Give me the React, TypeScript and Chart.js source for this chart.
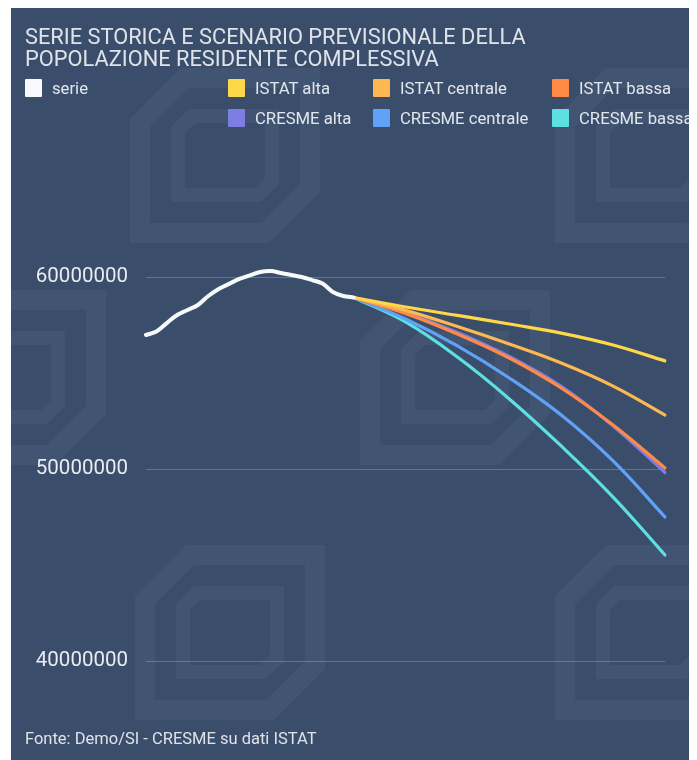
import React, { useEffect, useRef } from "react";
import { Chart, registerables } from "chart.js";
Chart.register(...registerables);

const TITLE_LINES = ["SERIE STORICA E SCENARIO PREVISIONALE DELLA", "POPOLAZIONE RESIDENTE COMPLESSIVA"];
const SOURCE = "Fonte: Demo/SI - CRESME su dati ISTAT";

const years = [
  "2002", "2003", "2004", "2005", "2006", "2007", "2008", "2009", "2010", "2011",
  "2012", "2013", "2014", "2015", "2016", "2017", "2018", "2019", "2020", "2021",
  "2022", "2023", "2024", "2025", "2026", "2027", "2028", "2029", "2030", "2031",
  "2032", "2033", "2034", "2035", "2036", "2037", "2038", "2039", "2040", "2041",
  "2042", "2043", "2044", "2045", "2046", "2047", "2048", "2049", "2050", "2051",
  "2052",
];

const serieYears = [
  "2002", "2003", "2004", "2005", "2006", "2007", "2008", "2009", "2010", "2011",
  "2012", "2013", "2014", "2015", "2016", "2017", "2018", "2019", "2020", "2021", "2022",
];
const serieValues = [
  56980000, 57160000, 57600000, 58020000, 58280000, 58540000, 59010000, 59380000, 59640000, 59900000,
  60080000, 60260000, 60310000, 60210000, 60100000, 60000000, 59840000, 59660000, 59220000, 59010000, 58930000,
];

const projYears = ["2022", "2027", "2032", "2037", "2042", "2047", "2052"];
const istatAlta = [58930000, 58440000, 58000000, 57550000, 57080000, 56460000, 55630000];
const istatCentrale = [58930000, 58260000, 57420000, 56510000, 55520000, 54320000, 52810000];
const istatBassa = [58930000, 58100000, 57030000, 55780000, 54220000, 52290000, 50050000];
const cresmeAlta = [58930000, 58150000, 57110000, 55860000, 54300000, 52240000, 49820000];
const cresmeCentrale = [58930000, 57810000, 56410000, 54740000, 52810000, 50420000, 47500000];
const cresmeBassa = [58930000, 57660000, 55830000, 53650000, 51200000, 48540000, 45520000];

const seriesNames = ["serie", "ISTAT alta", "ISTAT centrale", "ISTAT bassa", "CRESME alta", "CRESME centrale", "CRESME bassa"];
const seriesColors = ["#f7f9fb", "#ffd84a", "#ffb84f", "#ff8a45", "#7d7de3", "#60a2f7", "#5ee0e2"];

const yTicks = [40000000, 50000000, 60000000];

const FONT = "Roboto, 'Noto Sans', sans-serif";

function pts(xs: string[], ys: number[]) {
  return xs.map((x, i) => ({ x, y: ys[i] }));
}

// decorative background watermark (logo outlines), positions in canvas pixels
const watermarkSpots = [
  [119, 60], [544, 60], [-95, 282], [349, 282], [124, 537], [544, 537],
];

const watermarkPlugin = {
  id: "watermark",
  beforeDraw(chart: any) {
    const ctx = chart.ctx;
    ctx.save();
    ctx.strokeStyle = "rgba(255,255,255,0.04)";
    ctx.lineJoin = "miter";
    const w = 190;
    const h = 175;
    for (const [x, y] of watermarkSpots) {
      ctx.lineWidth = 20;
      ctx.beginPath();
      ctx.moveTo(x + 10, y + 55);
      ctx.lineTo(x + 55, y + 10);
      ctx.lineTo(x + w - 10, y + 10);
      ctx.lineTo(x + w - 10, y + h - 55);
      ctx.lineTo(x + w - 55, y + h - 10);
      ctx.lineTo(x + 10, y + h - 10);
      ctx.closePath();
      ctx.stroke();
      ctx.lineWidth = 14;
      ctx.beginPath();
      ctx.moveTo(x + 62, y + 48);
      ctx.lineTo(x + w - 48, y + 48);
      ctx.lineTo(x + w - 48, y + h - 62);
      ctx.lineTo(x + w - 62, y + h - 48);
      ctx.lineTo(x + 48, y + h - 48);
      ctx.lineTo(x + 48, y + 62);
      ctx.closePath();
      ctx.stroke();
    }
    ctx.restore();
  },
};

export default function App() {
  const ref = useRef<HTMLCanvasElement | null>(null);

  useEffect(() => {
    if (!ref.current) return;
    const projections = [istatAlta, istatCentrale, istatBassa, cresmeAlta, cresmeCentrale, cresmeBassa];
    const datasets: any[] = [
      {
        label: seriesNames[0],
        data: pts(serieYears, serieValues),
        borderColor: seriesColors[0],
        backgroundColor: seriesColors[0],
        borderWidth: 4,
        tension: 0.35,
        order: 0,
      },
      ...projections.map((vals, i) => ({
        label: seriesNames[i + 1],
        data: pts(projYears, vals),
        borderColor: seriesColors[i + 1],
        backgroundColor: seriesColors[i + 1],
        borderWidth: 3.2,
        tension: 0.4,
        order: 1 + i,
      })),
    ];
    const chart = new Chart(ref.current, {
      type: "line",
      data: { labels: years, datasets },
      plugins: [watermarkPlugin],
      options: {
        animation: false,
        responsive: false,
        maintainAspectRatio: false,
        layout: { padding: { top: 230.6, bottom: 99, left: 0, right: 32 } },
        elements: {
          point: { radius: 0, hoverRadius: 0 },
          line: { borderCapStyle: "round", borderJoinStyle: "round" },
        },
        plugins: { legend: { display: false }, title: { display: false }, tooltip: { enabled: false } },
        scales: {
          x: {
            type: "category",
            offset: false,
            display: false,
          },
          y: {
            min: 40000000,
            max: 62000000,
            afterBuildTicks: (axis: any) => {
              axis.ticks = yTicks.map((v) => ({ value: v }));
            },
            afterFit: (axis: any) => {
              axis.width = 135;
            },
            border: { display: false },
            grid: { color: "rgba(255,255,255,0.22)", lineWidth: 1, drawTicks: false },
            ticks: {
              color: "#e9ecf0",
              padding: 18,
              font: { family: FONT, size: 20.5 },
              callback: (v: any) => String(v),
            },
          },
        },
      } as any,
    });
    return () => chart.destroy();
  }, []);

  const colLefts = [14, 217, 362, 541];
  const cells = seriesNames.map((name, i) => {
    const row = i < 4 ? 0 : 1;
    const col = i < 4 ? i : i - 3;
    return { name, color: seriesColors[i], row, col };
  });

  return (
    <div
      style={{
        position: "relative",
        marginLeft: 3,
        width: 686,
        height: 752,
        background: "#3a4e6c",
        overflow: "hidden",
        fontFamily: FONT,
      }}
    >
      <canvas ref={ref} width={686} height={752} style={{ position: "absolute", left: 0, top: 0, display: "block" }} />
      <div
        style={{
          position: "absolute",
          left: 14,
          top: 18,
          color: "#dfe3e9",
          fontSize: 21.8,
          lineHeight: "22px",
          whiteSpace: "nowrap",
        }}
      >
        {TITLE_LINES.map((l) => (
          <div key={l}>{l}</div>
        ))}
      </div>
      {cells.map((c) => (
        <div
          key={c.name}
          style={{
            position: "absolute",
            left: colLefts[c.col],
            top: 71 + c.row * 30,
            height: 18,
            display: "flex",
            alignItems: "center",
            whiteSpace: "nowrap",
          }}
        >
          <span style={{ display: "inline-block", width: 17, height: 18, background: c.color, borderRadius: 1 }} />
          <span style={{ marginLeft: 10, color: "#e3e7ec", fontSize: 16.7 }}>{c.name}</span>
        </div>
      ))}
      <div
        style={{
          position: "absolute",
          left: 14,
          top: 721,
          color: "#dfe3e9",
          fontSize: 16.5,
          lineHeight: "19px",
          whiteSpace: "nowrap",
        }}
      >
        {SOURCE}
      </div>
    </div>
  );
}
